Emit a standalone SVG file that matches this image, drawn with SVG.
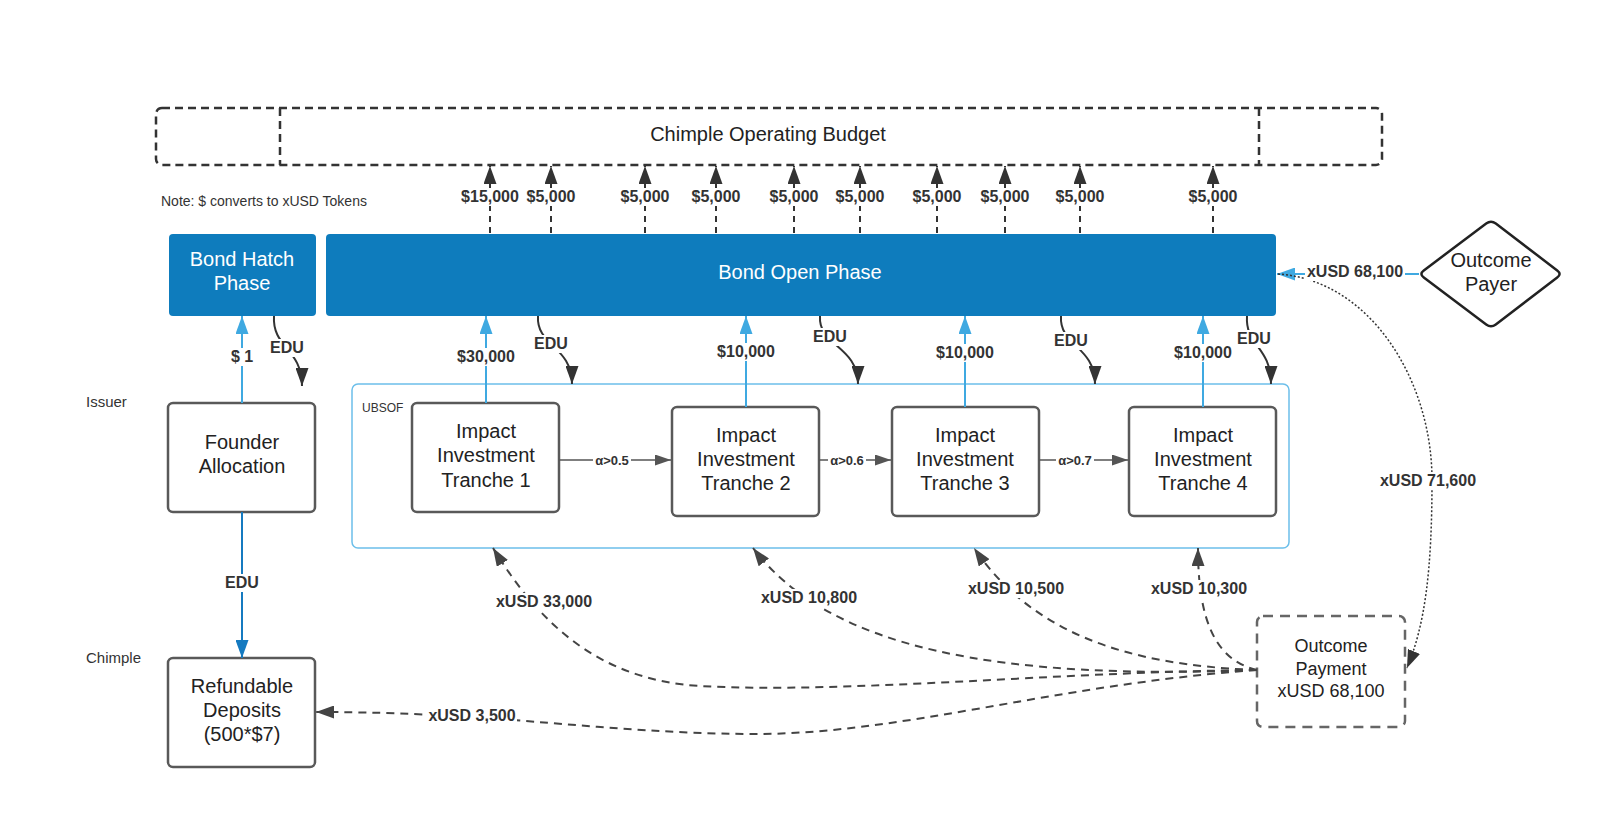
<svg xmlns="http://www.w3.org/2000/svg" width="1600" height="822" viewBox="0 0 1600 822">
<defs>
<style>
.txt{font-family:"Liberation Sans",Arial,sans-serif;font-size:20px;fill:#222;text-anchor:middle}
.wt{fill:#fff}
.small{font-family:"Liberation Sans",Arial,sans-serif;fill:#333}
.lbl{font-family:"Liberation Sans",Arial,sans-serif;font-size:16px;font-weight:bold;fill:#333;text-anchor:middle}
.alb{font-family:"Liberation Sans",Arial,sans-serif;font-size:13px;font-weight:bold;fill:#333;text-anchor:middle}
.bg{fill:#fff}
.box{fill:#fff;stroke:#595959;stroke-width:2.5}
.phase{fill:#0e7cbd}
.budget{fill:none;stroke:#333;stroke-width:2.5;stroke-dasharray:8 5}
.topdash{fill:none;stroke:#333;stroke-width:2;stroke-dasharray:6 5}
.blue{fill:none;stroke:#3fa9e1;stroke-width:2}
.dblue{fill:none;stroke:#157ac0;stroke-width:2}
.edu{fill:none;stroke:#333;stroke-width:2}
.alpha{fill:none;stroke:#555;stroke-width:1.5}
.dash{fill:none;stroke:#444;stroke-width:2;stroke-dasharray:8 6}
.dot{fill:none;stroke:#333;stroke-width:1.5;stroke-dasharray:2 2}
</style>
<marker id="adk" markerUnits="userSpaceOnUse" markerWidth="19" markerHeight="13" refX="18" refY="6.5" orient="auto"><path d="M0,0 L18,6.5 L0,13 z" fill="#333"/></marker>
<marker id="agy" markerUnits="userSpaceOnUse" markerWidth="17" markerHeight="11" refX="16" refY="5.5" orient="auto"><path d="M0,0 L16,5.5 L0,11 z" fill="#555"/></marker>
<marker id="abl" markerUnits="userSpaceOnUse" markerWidth="19" markerHeight="13" refX="18" refY="6.5" orient="auto"><path d="M0,0 L18,6.5 L0,13 z" fill="#3fa9e1"/></marker>
<marker id="adb" markerUnits="userSpaceOnUse" markerWidth="19" markerHeight="13" refX="18" refY="6.5" orient="auto"><path d="M0,0 L18,6.5 L0,13 z" fill="#157ac0"/></marker>
<marker id="ads" markerUnits="userSpaceOnUse" markerWidth="19" markerHeight="13" refX="18" refY="6.5" orient="auto"><path d="M0,0 L18,6.5 L0,13 z" fill="#444"/></marker>
</defs>
<rect width="1600" height="822" fill="#fff"/>

<g id="budget">
<rect class="budget" x="156" y="108" width="1226" height="57" rx="6"/>
<line class="budget" x1="280" y1="108" x2="280" y2="165"/>
<line class="budget" x1="1259" y1="108" x2="1259" y2="165"/>
<text class="txt" x="768" y="141">Chimple Operating Budget</text>
</g>

<text class="small" x="161" y="206" font-size="14">Note: $ converts to xUSD Tokens</text>
<text class="small" x="86" y="407" font-size="15">Issuer</text>
<text class="small" x="86" y="663" font-size="15">Chimple</text>

<g id="bond-hatch">
<rect class="phase" x="169" y="234" width="147" height="82" rx="4"/>
<text class="txt wt" x="242" y="266">Bond Hatch</text>
<text class="txt wt" x="242" y="290">Phase</text>
</g>
<g id="bond-open">
<rect class="phase" x="326" y="234" width="950" height="82" rx="4"/>
<text class="txt wt" x="800" y="279">Bond Open Phase</text>
</g>
<g id="outcome-payer">
<path d="M1423.8,270.4 L1486.2,223.6 Q1491,220 1495.8,223.6 L1557.2,270.4 Q1562,274 1557.2,277.6 L1495.8,324.4 Q1491,328 1486.2,324.4 L1423.8,277.6 Q1419,274 1423.8,270.4 Z" fill="#fff" stroke="#222" stroke-width="2.5" stroke-linejoin="round"/>
<text class="txt" x="1491" y="267">Outcome</text>
<text class="txt" x="1491" y="291">Payer</text>
</g>
<g id="ubsof">
<rect x="352" y="384" width="937" height="164" rx="6" fill="none" stroke="#6cbfea" stroke-width="1.5"/>
<text class="small" x="362" y="412" font-size="12">UBSOF</text>
</g>
<g id="founder-allocation">
<rect class="box" x="168" y="403" width="147" height="109" rx="5"/>
<text class="txt" x="242" y="449">Founder</text>
<text class="txt" x="242" y="473">Allocation</text>
</g>
<g id="tranche-1">
<rect class="box" x="412" y="403" width="147" height="109" rx="5"/>
<text class="txt" x="486" y="438">Impact</text>
<text class="txt" x="486" y="462">Investment</text>
<text class="txt" x="486" y="487">Tranche 1</text>
</g>
<g id="tranche-2">
<rect class="box" x="672" y="407" width="147" height="109" rx="5"/>
<text class="txt" x="746" y="442">Impact</text>
<text class="txt" x="746" y="466">Investment</text>
<text class="txt" x="746" y="490">Tranche 2</text>
</g>
<g id="tranche-3">
<rect class="box" x="892" y="407" width="147" height="109" rx="5"/>
<text class="txt" x="965" y="442">Impact</text>
<text class="txt" x="965" y="466">Investment</text>
<text class="txt" x="965" y="490">Tranche 3</text>
</g>
<g id="tranche-4">
<rect class="box" x="1129" y="407" width="147" height="109" rx="5"/>
<text class="txt" x="1203" y="442">Impact</text>
<text class="txt" x="1203" y="466">Investment</text>
<text class="txt" x="1203" y="490">Tranche 4</text>
</g>
<g id="refundable-deposits">
<rect class="box" x="168" y="658" width="147" height="109" rx="5"/>
<text class="txt" x="242" y="693">Refundable</text>
<text class="txt" x="242" y="717">Deposits</text>
<text class="txt" x="242" y="741">(500*$7)</text>
</g>
<g id="outcome-payment">
<rect x="1257" y="616" width="148" height="111" rx="6" fill="#fff" stroke="#666" stroke-width="2.5" stroke-dasharray="10 7"/>
<text class="txt" x="1331" y="652" style="font-size:18px">Outcome</text>
<text class="txt" x="1331" y="675" style="font-size:18px">Payment</text>
<text class="txt" x="1331" y="697" style="font-size:18px">xUSD 68,100</text>
</g>

<g id="connectors">
<path class="topdash" d="M490,233 V166" marker-end="url(#adk)"/>
<path class="topdash" d="M551,233 V166" marker-end="url(#adk)"/>
<path class="topdash" d="M645,233 V166" marker-end="url(#adk)"/>
<path class="topdash" d="M716,233 V166" marker-end="url(#adk)"/>
<path class="topdash" d="M794,233 V166" marker-end="url(#adk)"/>
<path class="topdash" d="M860,233 V166" marker-end="url(#adk)"/>
<path class="topdash" d="M937,233 V166" marker-end="url(#adk)"/>
<path class="topdash" d="M1005,233 V166" marker-end="url(#adk)"/>
<path class="topdash" d="M1080,233 V166" marker-end="url(#adk)"/>
<path class="topdash" d="M1213,233 V166" marker-end="url(#adk)"/>
<path class="blue" d="M242,403 V316" marker-end="url(#abl)"/>
<path class="blue" d="M486,403 V316" marker-end="url(#abl)"/>
<path class="blue" d="M746,407 V316" marker-end="url(#abl)"/>
<path class="blue" d="M965,407 V316" marker-end="url(#abl)"/>
<path class="blue" d="M1203,407 V316" marker-end="url(#abl)"/>
<path class="blue" d="M1419,274 H1277" marker-end="url(#abl)"/>
<path class="dblue" d="M242,512 V658" marker-end="url(#adb)"/>
<path class="edu" d="M274,316 C272,348 302,348 302,386" marker-end="url(#adk)"/>
<path class="edu" d="M538,316 C536,346 572,346 572,384" marker-end="url(#adk)"/>
<path class="edu" d="M820,316 C818,346 858,346 858,384" marker-end="url(#adk)"/>
<path class="edu" d="M1061,316 C1059,346 1095,346 1095,384" marker-end="url(#adk)"/>
<path class="edu" d="M1247,316 C1245,346 1271,346 1271,384" marker-end="url(#adk)"/>
<path class="alpha" d="M559,460 H671" marker-end="url(#agy)"/>
<path class="alpha" d="M819,460 H891" marker-end="url(#agy)"/>
<path class="alpha" d="M1039,460 H1128" marker-end="url(#agy)"/>
<path class="dash" d="M1257,670 C1050,672 850,694 700,686 C600,680 540,625 493,548" marker-end="url(#ads)"/>
<path class="dash" d="M1257,670 C1000,680 830,650 753,548" marker-end="url(#ads)"/>
<path class="dash" d="M1257,670 C1120,665 1030,630 974,548" marker-end="url(#ads)"/>
<path class="dash" d="M1257,670 C1215,660 1198,620 1198,548" marker-end="url(#ads)"/>
<path class="dash" d="M1257,670 C1050,685 900,735 750,734 C600,733 500,712 316,712" marker-end="url(#ads)"/>
<path class="dot" d="M1278,274 C1370,280 1432,380 1432,480 C1432,570 1425,625 1407,668" marker-end="url(#adk)"/>

<g>
<rect class="bg" x="459" y="188" width="62" height="18"/><text class="lbl" x="490" y="202">$15,000</text>
<rect class="bg" x="525" y="188" width="52" height="18"/><text class="lbl" x="551" y="202">$5,000</text>
<rect class="bg" x="619" y="188" width="52" height="18"/><text class="lbl" x="645" y="202">$5,000</text>
<rect class="bg" x="690" y="188" width="52" height="18"/><text class="lbl" x="716" y="202">$5,000</text>
<rect class="bg" x="768" y="188" width="52" height="18"/><text class="lbl" x="794" y="202">$5,000</text>
<rect class="bg" x="834" y="188" width="52" height="18"/><text class="lbl" x="860" y="202">$5,000</text>
<rect class="bg" x="911" y="188" width="52" height="18"/><text class="lbl" x="937" y="202">$5,000</text>
<rect class="bg" x="979" y="188" width="52" height="18"/><text class="lbl" x="1005" y="202">$5,000</text>
<rect class="bg" x="1054" y="188" width="52" height="18"/><text class="lbl" x="1080" y="202">$5,000</text>
<rect class="bg" x="1187" y="188" width="52" height="18"/><text class="lbl" x="1213" y="202">$5,000</text>

<rect class="bg" x="229" y="348" width="26" height="18"/><text class="lbl" x="242" y="362">$ 1</text>
<rect class="bg" x="455" y="348" width="62" height="18"/><text class="lbl" x="486" y="362">$30,000</text>
<rect class="bg" x="715" y="343" width="62" height="18"/><text class="lbl" x="746" y="357">$10,000</text>
<rect class="bg" x="934" y="344" width="62" height="18"/><text class="lbl" x="965" y="358">$10,000</text>
<rect class="bg" x="1172" y="344" width="62" height="18"/><text class="lbl" x="1203" y="358">$10,000</text>

<rect class="bg" x="268" y="339" width="38" height="18"/><text class="lbl" x="287" y="353">EDU</text>
<rect class="bg" x="532" y="335" width="38" height="18"/><text class="lbl" x="551" y="349">EDU</text>
<rect class="bg" x="811" y="328" width="38" height="18"/><text class="lbl" x="830" y="342">EDU</text>
<rect class="bg" x="1052" y="332" width="38" height="18"/><text class="lbl" x="1071" y="346">EDU</text>
<rect class="bg" x="1235" y="330" width="38" height="18"/><text class="lbl" x="1254" y="344">EDU</text>
<rect class="bg" x="223" y="574" width="38" height="18"/><text class="lbl" x="242" y="588">EDU</text>

<rect class="bg" x="593" y="453" width="38" height="14"/><text class="alb" x="612" y="465">α&gt;0.5</text>
<rect class="bg" x="828" y="453" width="38" height="14"/><text class="alb" x="847" y="465">α&gt;0.6</text>
<rect class="bg" x="1056" y="453" width="38" height="14"/><text class="alb" x="1075" y="465">α&gt;0.7</text>

<rect class="bg" x="494" y="593" width="100" height="18"/><text class="lbl" x="544" y="607">xUSD 33,000</text>
<rect class="bg" x="759" y="589" width="100" height="18"/><text class="lbl" x="809" y="603">xUSD 10,800</text>
<rect class="bg" x="966" y="580" width="100" height="18"/><text class="lbl" x="1016" y="594">xUSD 10,500</text>
<rect class="bg" x="1149" y="580" width="100" height="18"/><text class="lbl" x="1199" y="594">xUSD 10,300</text>
<rect class="bg" x="427" y="707" width="90" height="18"/><text class="lbl" x="472" y="721">xUSD 3,500</text>
<rect class="bg" x="1378" y="472" width="100" height="18"/><text class="lbl" x="1428" y="486">xUSD 71,600</text>
<rect class="bg" x="1305" y="263" width="100" height="18"/><text class="lbl" x="1355" y="277">xUSD 68,100</text>
</g>
</g>
</svg>
